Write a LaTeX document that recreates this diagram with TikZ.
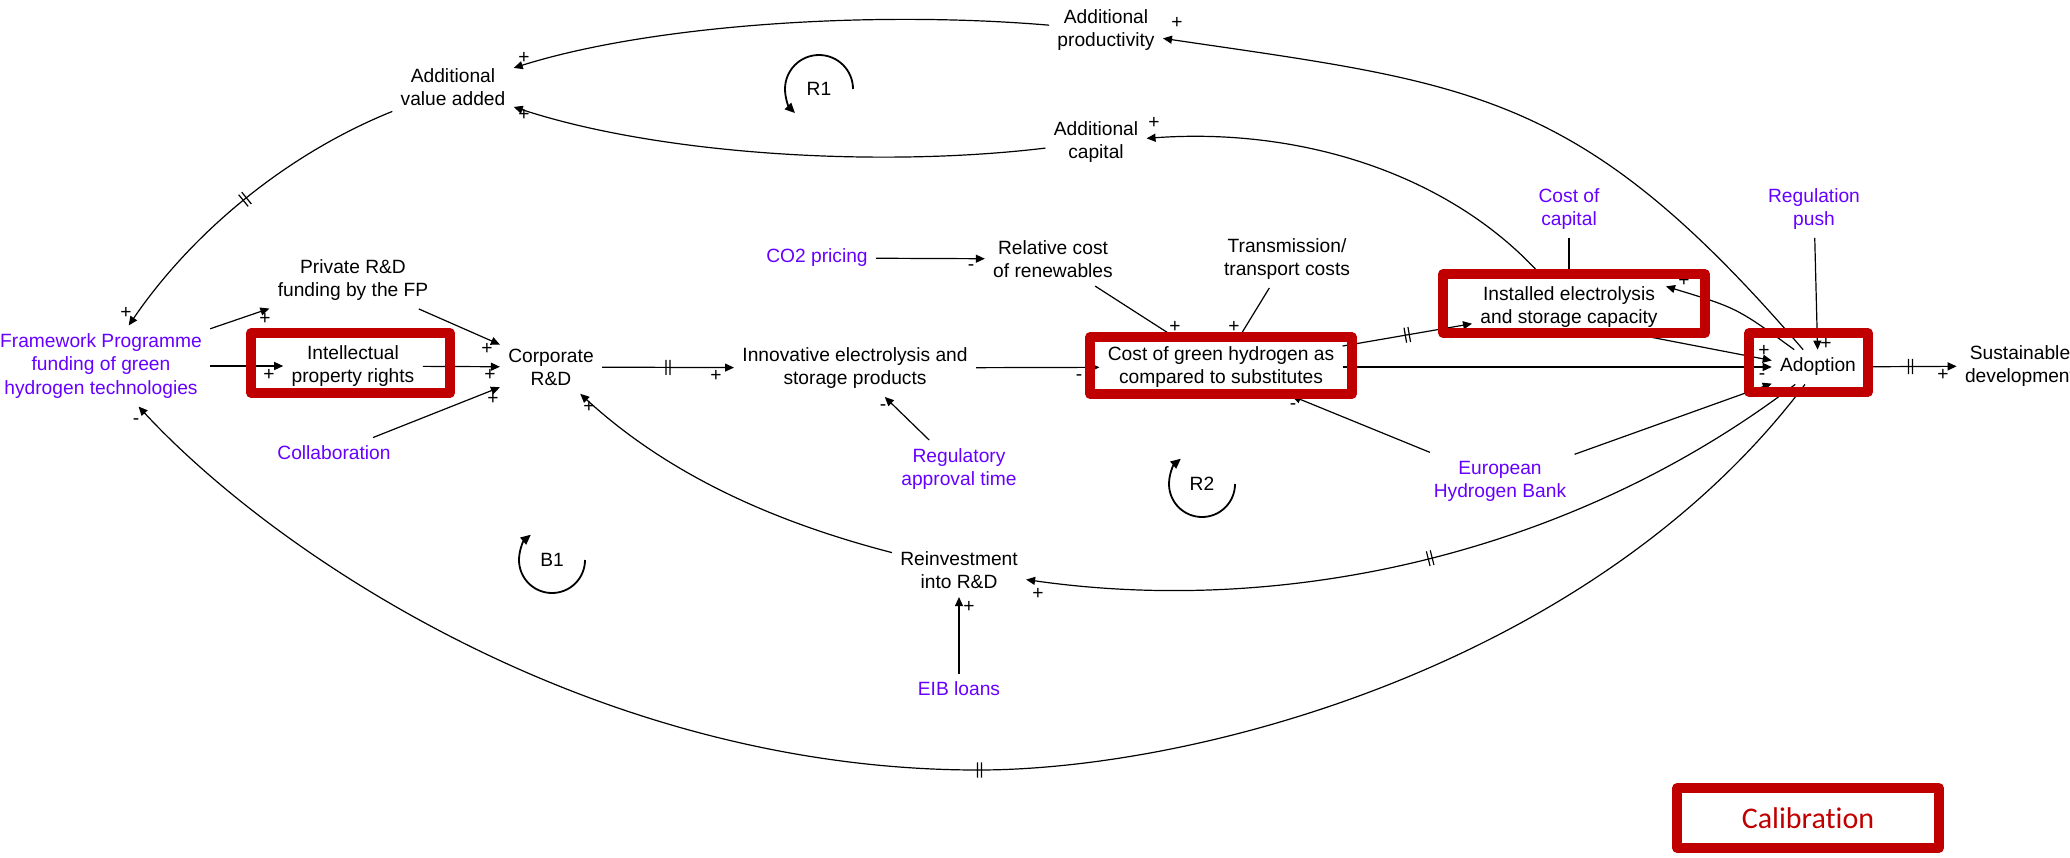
\documentclass[tikz,border=0pt]{standalone}
\usepackage{fontspec}
\setmainfont{Liberation Sans}
\newfontfamily\calfont[Ligatures=NoCommon]{Carlito}
\usetikzlibrary{arrows.meta,decorations.markings}

\definecolor{vred}{RGB}{192,0,0}
\definecolor{vpurple}{RGB}{102,0,255}

\begin{document}
\begin{tikzpicture}[x=0.5pt,y=0.5pt,
  var/.style={align=center, inner sep=4pt, font=\fontsize{9.6}{11.6}\selectfont},
  ext/.style={var, text=vpurple},
  cline/.style={line width=0.6pt, -{Triangle[length=4.5pt,width=4pt]}},
  pline/.style={line width=0.6pt},
  sgn/.style={inner sep=0pt, font=\fontsize{9.6}{11.6}\selectfont},
  delay/.style={postaction={decorate, decoration={markings,
      mark=at position #1 with {\draw[-,line width=0.6pt] (-1pt,-3.8pt) -- (-1pt,3.8pt) (1pt,-3.8pt) -- (1pt,3.8pt);}}}},
  delay/.default=0.5,
  hl/.style={draw=vred, line width=4.7pt, line join=round},
  loopmark/.style={line width=0.9pt, -{Triangle[length=5pt,width=4.5pt]}},
]
\useasboundingbox (0,0) rectangle (2070,-857);

% ---------- variables ----------
\node[var] (vadd)  at (453,-87)   {Additional\\value added};
\node[var] (prod)  at (1106,-30)  {Additional\\productivity};
\node[var] (cap)   at (1096,-142) {Additional\\capital};
\node[var] (priv)  at (353,-280)  {Private R\&D\\funding by the FP};
\node[ext] (fp)    at (101,-366)  {Framework Programme\\funding of green\\hydrogen technologies};
\node[var] (ipr)   at (353,-366)  {Intellectual\\property rights};
\node[var] (crd)   at (551,-367)  {Corporate\\R\&D};
\node[ext] (collab) at (334,-453) {Collaboration};
\node[var] (innov) at (855,-368)  {Innovative electrolysis and\\storage products};
\node[ext] (co2)   at (817,-258)  {CO2 pricing};
\node[var] (rel)   at (1053,-259) {Relative cost\\of renewables};
\node[var] (trans) at (1287,-259) {Transmission/\\transport costs};
\node[var] (cgh)   at (1221,-367) {Cost of green hydrogen as\\compared to substitutes};
\node[var] (inst)  at (1569,-307) {Installed electrolysis\\and storage capacity};
\node[ext] (coc)   at (1569,-209) {Cost of\\capital};
\node[var] (adopt) at (1818,-367) {Adoption};
\node[var] (sust)  at (2020,-366) {Sustainable\\development};
\node[ext] (regp)  at (1814,-209) {Regulation\\push};
\node[ext] (ehb)   at (1500,-481) {European\\Hydrogen Bank};
\node[ext] (rat)   at (959,-469)  {Regulatory\\approval time};
\node[var] (reinv) at (959,-570)  {Reinvestment\\into R\&D};
\node[ext] (eib)   at (959,-689)  {EIB loans};

% ---------- loop markers ----------
\node[var] (r1) at (819,-89)  {R1};
\node[var] (b1) at (552,-560) {B1};
\node[var] (r2) at (1202,-484) {R2};
\draw[loopmark] (r1.center) ++(17pt,0) arc[start angle=0, end angle=225, radius=17pt];
\draw[loopmark] (b1.center) ++(16.5pt,0) arc[start angle=0, end angle=-230, radius=16.5pt];
\draw[loopmark] (r2.center) ++(16.5pt,0) arc[start angle=0, end angle=-230, radius=16.5pt];

% ---------- upper loop ----------
\draw[cline] (prod) .. controls (870,-10) and (650,-25) .. (vadd);
\draw[cline] (cap) .. controls (880,-168) and (660,-155) .. (vadd);
\draw[cline] (adopt) .. controls (1580,-90) and (1473,-84) .. (prod);
\draw[cline] (inst) .. controls (1454,-176) and (1304,-127) .. (cap);
\draw[cline,delay] (vadd) .. controls (289,-153) and (194,-230) .. (fp);

% ---------- left cluster ----------
\draw[cline] (fp) -- (priv);
\draw[cline] (fp) -- (ipr);
\draw[cline] (ipr) -- (crd);
\draw[cline] (priv) -- (crd);
\draw[cline] (collab) -- (crd);
\draw[cline,delay] (crd) -- (innov);
\draw[cline] (reinv) .. controls (778,-523) and (671,-477) .. (crd);
\draw[cline] (eib) -- (reinv);

% ---------- middle ----------
\draw[cline] (co2) -- (rel);
\draw[cline] (rat) -- (innov);
\draw[cline] (innov) -- (cgh);
\draw[pline] (rel) -- (cgh);
\draw[pline] (trans) -- (cgh);
\draw[cline] (ehb) -- (cgh);
\draw[cline,delay] (cgh) -- (inst);

% ---------- adoption ----------
\draw[cline] (cgh) -- (adopt);
\draw[cline] (ehb) -- (adopt);
\draw[pline] (coc) -- (inst);
\draw[cline] (regp) -- (adopt);
\draw[cline] (inst.-21) -- (adopt.172);
\draw[cline] (adopt) .. controls (1737,-308) .. (inst.12);
\draw[cline,delay] (adopt) -- (sust);
\draw[cline,delay] (adopt) .. controls (1574,-553) and (1288,-617) .. (reinv);
\draw[cline,delay] (adopt) .. controls (1595,-664) and (1198,-770) .. (978,-770)
                  .. controls (598,-770) and (279,-558) .. (fp);

% ---------- polarities ----------
\node[sgn] (s1)  at (524,-58)   {+};
\node[sgn] (s2)  at (524,-115)  {+};
\node[sgn] (s3)  at (1177,-23)  {+};
\node[sgn] (s4)  at (1154,-123) {+};
\node[sgn] (s5)  at (1684,-281) {+};
\node[sgn] (s6)  at (1764,-351) {+};
\node[sgn] (s7)  at (1762,-377) {-};
\node[sgn] (s8)  at (1293,-407) {-};
\node[sgn] (s9)  at (1079,-378) {-};
\node[sgn] (s10) at (1175,-327) {+};
\node[sgn] (s11) at (1234,-327) {+};
\node[sgn] (s12) at (971,-268)  {-};
\node[sgn] (s13) at (883,-408)  {-};
\node[sgn] (s14) at (716,-376)  {+};
\node[sgn] (s15) at (589,-407)  {+};
\node[sgn] (s16) at (1038,-594) {+};
\node[sgn] (s17) at (136,-422)  {-};
\node[sgn] (s18) at (126,-313)  {+};
\node[sgn] (s19) at (265,-319)  {+};
\node[sgn] (s20) at (269,-375)  {+};
\node[sgn] (s21) at (490,-375)  {+};
\node[sgn] (s22) at (487,-349)  {+};
\node[sgn] (s23) at (493,-399)  {+};
\node[sgn] (s24) at (1943,-375) {+};
\node[sgn] (s25) at (1826,-344) {+};
\node[sgn] (s26) at (969,-607)  {+};

% ---------- calibrated variables ----------
\draw[hl] (251,-333) rectangle (450,-393);
\draw[hl] (1090,-337) rectangle (1352,-394);
\draw[hl] (1443,-274) rectangle (1705,-333);
\draw[hl] (1749,-333) rectangle (1868,-392);

% ---------- legend ----------
\draw[hl] (1677,-788) rectangle (1939,-848);
\node[text=vred, font=\calfont\fontsize{15}{18}\selectfont] (calib) at (1808,-818) {Calibration};
\end{tikzpicture}
\end{document}
